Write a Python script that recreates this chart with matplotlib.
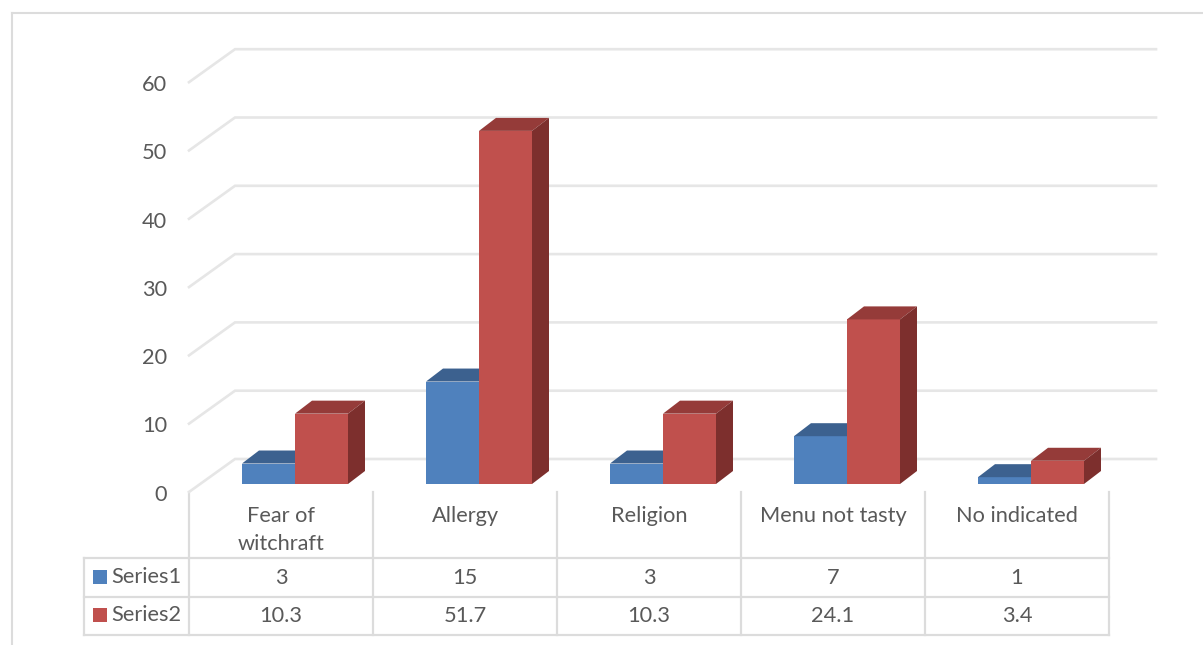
import matplotlib
matplotlib.use('Agg')
import matplotlib.pyplot as plt
from matplotlib.patches import Polygon, Rectangle

plt.rcParams['font.family'] = ['Lato', 'DejaVu Sans']

categories = ['Fear of\nwitchraft', 'Allergy', 'Religion', 'Menu not tasty', 'No indicated']
series1 = [3, 15, 3, 7, 1]
series2 = [10.3, 51.7, 10.3, 24.1, 3.4]
y_ticks = [0, 10, 20, 30, 40, 50, 60]
series_names = ['Series1', 'Series2']

W, H = 1203, 645
TEXT = '#595959'
GRID = '#e6e6e6'
LINE = '#dcdcdc'
FS = 15.7

# plot region: category cells run 189..1109 px, value 0 of the bar fronts sits at y=484 px
PX_X = 184.0
PX_Y = 6.83

fig = plt.figure(figsize=(W / 100, H / 100), dpi=100, facecolor='white')

# overlay in pixel units for the frame and data table rules
pane = fig.add_axes([0, 0, 1, 1])
pane.set_xlim(0, W)
pane.set_ylim(H, 0)
pane.axis('off')

ax = fig.add_axes([189 / W, (H - 484) / H, 920 / W, 410 / H], zorder=2)
ax.set_xlim(0, 5)
ax.set_ylim(0, 410 / PX_Y)
ax.axis('off')
ax.patch.set_alpha(0)

# gridlines: short diagonal on the side wall, then flat along the back wall
wall_dx = 46 / PX_X
back_up = 25 / PX_Y
front_down = 8 / PX_Y
right_end = (1156 - 189) / PX_X
for v in y_ticks:
    ax.plot([0, wall_dx, right_end], [v - front_down, v + back_up, v + back_up],
            color=GRID, lw=1.9, clip_on=False, zorder=1, solid_joinstyle='miter')
    ax.text(-22 / PX_X, v - front_down - 0.4, str(v), ha='right', va='center',
            fontsize=FS, color=TEXT, clip_on=False)

# bars with their top and side faces
bar_w = 53 / PX_X
bar_off = 53 / PX_X
dep_x = 17 / PX_X
dep_y = 13 / PX_Y


def draw_bar(x, v, front, top, side, z):
    ax.add_patch(Rectangle((x, 0), bar_w, v, fc=front, ec='none', clip_on=False, zorder=z))
    ax.add_patch(Polygon([(x, v), (x + dep_x, v + dep_y), (x + bar_w + dep_x, v + dep_y), (x + bar_w, v)],
                         fc=top, ec='none', clip_on=False, zorder=z))
    ax.add_patch(Polygon([(x + bar_w, 0), (x + bar_w + dep_x, dep_y), (x + bar_w + dep_x, v + dep_y), (x + bar_w, v)],
                         fc=side, ec='none', clip_on=False, zorder=z))


for i in range(len(categories)):
    draw_bar(i + bar_off, series1[i], '#4f81bd', '#3c618f', '#2f4d72', 3)
    draw_bar(i + bar_off + bar_w, series2[i], '#c0504d', '#953b39', '#7d2f2d', 4)

# chart frame, only the left and top edges fall on the canvas
pane.plot([11.5, 11.5], [H, 13], color=LINE, lw=1.5)
pane.plot([11.5, W], [13, 13], color=LINE, lw=1.5)

# data table
col_x = [189 + PX_X * i for i in range(len(categories) + 1)]
rows_y = [558, 597, 635]
for x in col_x:
    pane.plot([x, x], [492, 635], color=LINE, lw=1.6)
pane.plot([84, 84], [558, 635], color=LINE, lw=1.6)
for y in rows_y:
    pane.plot([84, col_x[-1]], [y, y], color=LINE, lw=1.6)

for i, cat in enumerate(categories):
    cx = (col_x[i] + col_x[i + 1]) / 2
    pane.text(cx, 516 if '\n' not in cat else 530, cat, ha='center', va='center',
              fontsize=FS, color=TEXT, linespacing=1.5)
    pane.text(cx, 578, str(series1[i]), ha='center', va='center', fontsize=FS, color=TEXT)
    pane.text(cx, 616, str(series2[i]), ha='center', va='center', fontsize=FS, color=TEXT)

for name, color, y in zip(series_names, ['#4f81bd', '#c0504d'], [577, 615]):
    pane.add_patch(Rectangle((93, y - 7), 14, 14, fc=color, ec='none'))
    pane.text(111, y, name, ha='left', va='center', fontsize=FS, color=TEXT)

fig.savefig('out.png', dpi=100, facecolor='white')
